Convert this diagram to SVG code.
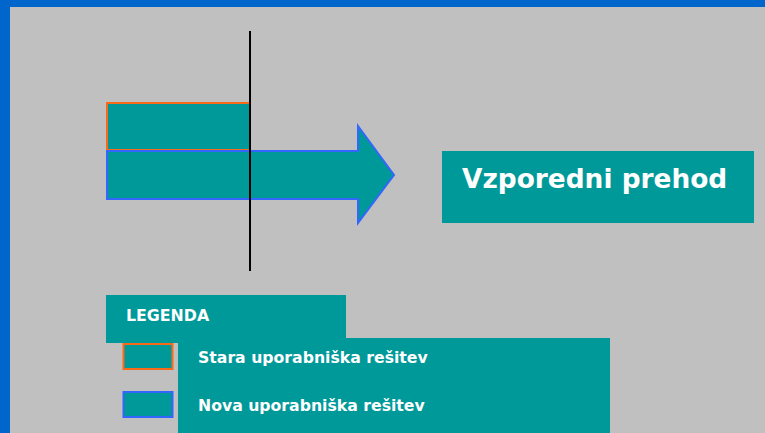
<svg xmlns="http://www.w3.org/2000/svg" width="765" height="433" viewBox="0 0 765 433">
  <style>
    .teal { fill: #009999; }
    .old { fill: #009999; stroke: #F86A18; stroke-width: 2; }
    .new { fill: #009999; stroke: #3366FF; stroke-width: 2; }
    .txt { font-family: "DejaVu Sans", Verdana, sans-serif; font-weight: bold; fill: #FFFFFF; }
  </style>

  <!-- slide frame -->
  <rect x="0" y="0" width="765" height="433" fill="#0066CC"/>
  <rect x="10" y="7" width="755" height="426" fill="#C0C0C0"/>

  <!-- old solution block -->
  <g id="old-solution">
    <rect class="old" x="107" y="103" width="143" height="47"/>
  </g>

  <!-- new solution arrow -->
  <g id="new-solution">
    <path class="new" d="M107,151 H358 V126 L394,175 L358,223 V199 H107 Z"/>
  </g>

  <!-- cut-over line -->
  <g id="connectors">
    <line x1="250" y1="31" x2="250" y2="271" stroke="#000000" stroke-width="2"/>
  </g>

  <!-- title -->
  <g id="title">
    <rect class="teal" x="442" y="151" width="312" height="72"/>
    <text class="txt" x="462" y="188" font-size="26.4">Vzporedni prehod</text>
  </g>

  <!-- legend -->
  <g id="legend-header">
    <rect class="teal" x="106" y="295" width="240" height="48"/>
    <text class="txt" x="126" y="321" font-size="15.8">LEGENDA</text>
  </g>
  <g id="legend-body">
    <rect class="teal" x="178" y="338" width="432" height="95"/>
    <text class="txt" x="198" y="363" font-size="15.7">Stara uporabniška rešitev</text>
    <text class="txt" x="198" y="411" font-size="15.7">Nova uporabniška rešitev</text>
  </g>
  <g id="legend-old">
    <rect class="old" x="123.5" y="344" width="49" height="25"/>
  </g>
  <g id="legend-new">
    <rect class="new" x="123.5" y="392" width="49" height="25"/>
  </g>
</svg>
